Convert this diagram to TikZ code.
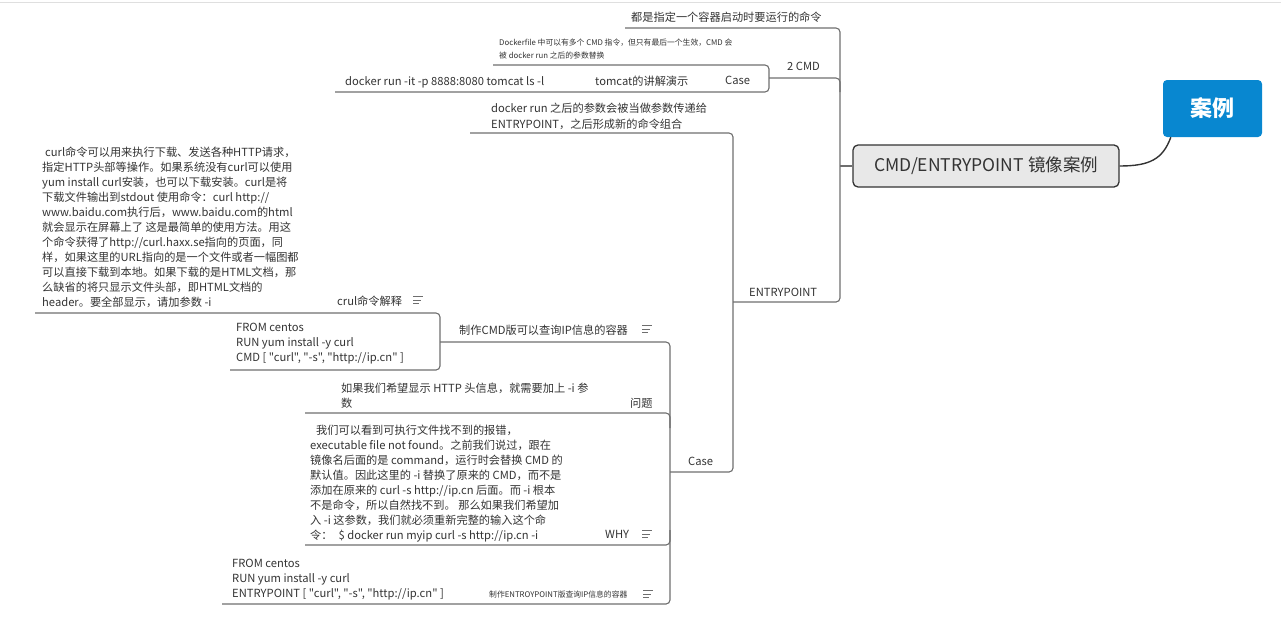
\documentclass[tikz,border=0pt]{standalone}
\usepackage{fontspec}
\setmainfont{Noto Sans CJK SC}[Ligatures=TeXOff]
\usetikzlibrary{calc}

\definecolor{rootblue}{RGB}{8,135,208}
\definecolor{inkgray}{RGB}{51,51,51}
\definecolor{linegray}{RGB}{110,110,110}

\begin{document}
\begin{tikzpicture}[
  x=1pt,
  y=-1pt,
  font=\fontsize{11.2}{15}\selectfont,
  every node/.style={text=inkgray},
  branch/.style={draw=linegray,line width=1.1pt,rounded corners=4pt},
  trunk/.style={draw=inkgray,line width=1.4pt},
  topic/.style={inner sep=0pt,anchor=north west,align=left},
  smalltopic/.style={topic,font=\fontsize{7.8}{13}\selectfont},
  noteicon/.pic={
    \draw[linegray,line width=0.8pt] (0,-3.5) -- (10,-3.5) (0,0) -- (8,0) (0,3.5) -- (6,3.5);
  }
]
\useasboundingbox (0,0) rectangle (1281,616);
\draw[gray!25,line width=0.8pt] (0,2) -- (1281,2);

% =====================================================================
% Root and central topic
% =====================================================================
\node[fill=rootblue,rounded corners=4pt,minimum width=99,minimum height=57,
      text=white,font=\fontsize{22}{22}\selectfont\bfseries] (root) at (1212.5,108.5) {案例};
\node[draw=inkgray,fill=gray!18,rounded corners=5pt,line width=1.3pt,
      minimum width=266,minimum height=42,font=\fontsize{17.5}{17.5}\selectfont] (central) at (986,166)
  {CMD/ENTRYPOINT 镜像案例};
\draw[trunk] ($(root.south west)+(8,0)$) .. controls +(-8,22) and +(30,0) .. (central.east);

% =====================================================================
% First level: 2 CMD / ENTRYPOINT
% =====================================================================
\coordinate (ul-cmdnote) at (625,28);
\coordinate (ul-cmd)     at (769,78);
\coordinate (ul-entry)   at (733,302);

\node[topic] (cmdnote) at (631,12) {都是指定一个容器启动时要运行的命令};
\node[topic] (cmd)     at (787,62) {2 CMD};
\node[topic] (entry)   at (749,288) {ENTRYPOINT};

\draw[branch] (central.west) -- (840,166);
\draw[branch] (ul-cmdnote) -- (840,28) -- (840,302) -- (ul-entry);
\draw[branch] (ul-cmd) -- (840,78) -- (840,92);

% --- 2 CMD children ---
\coordinate (ul-dfile) at (493,65);
\coordinate (ul-case1) at (335,92);

\node[smalltopic] (dfile) at (499,39)
  {Dockerfile 中可以有多个 CMD 指令，但只有最后一个生效，CMD 会\\
   被 docker run 之后的参数替换};
\node[topic] (case1)  at (725,76) {Case};
\node[topic] (tomcat) at (595,76) {tomcat的讲解演示};
\node[topic] (run)    at (345,76) {docker run -it -p 8888:8080 tomcat ls -l};

\draw[branch] (ul-dfile) -- (769,65) -- (769,92) -- (ul-case1);

% --- ENTRYPOINT children ---
\coordinate (ul-param) at (470,133);
\coordinate (ul-case2) at (670,472);

\node[topic] (param) at (491,103)
  {docker run 之后的参数会被当做参数传递给\\[1pt]
   ENTRYPOINT，之后形成新的命令组合};
\node[topic] (case2) at (688,457) {Case};

\draw[branch] (ul-param) -- (733,133) -- (733,472) -- (ul-case2);

% =====================================================================
% Case: CMD / ENTRYPOINT containers
% =====================================================================
\coordinate (ul-mkcmd)   at (440,342);
\coordinate (ul-issue)   at (305,413);
\coordinate (ul-why)     at (305,545);
\coordinate (ul-mkentry) at (222,604);

\node[topic] (mkcmd) at (459,325) {制作CMD版可以查询IP信息的容器};
\pic at (642,329) {noteicon};
\node[topic] (issue) at (630,398) {问题};
\node[topic] (want)  at (341,383)
  {如果我们希望显示 HTTP 头信息，就需要加上 -i 参\\数};
\node[topic] (why)   at (605,530) {WHY};
\pic at (642,534) {noteicon};
\node[topic] (whytext) at (310,425)
  {\hspace{6pt}我们可以看到可执行文件找不到的报错，\\
   executable file not found。之前我们说过，跟在\\
   镜像名后面的是 command，运行时会替换 CMD 的\\
   默认值。因此这里的 -i 替换了原来的 CMD，而不是\\
   添加在原来的 curl -s http://ip.cn 后面。而 -i 根本\\
   不是命令，所以自然找不到。 那么如果我们希望加\\
   入 -i 这参数，我们就必须重新完整的输入这个命\\
   令：\hspace{6pt}\$ docker run myip curl -s http://ip.cn -i};
\node[smalltopic] (mkentry) at (489,591) {制作ENTROYPOINT版查询IP信息的容器};
\pic at (643,594) {noteicon};
\node[topic] (entryfile) at (232,559)
  {FROM centos\\
   RUN yum install -y curl\\
   ENTRYPOINT [ "curl", "-s", "http://ip.cn" ]};

\draw[branch] (ul-mkcmd) -- (670,342) -- (670,604) -- (ul-mkentry);
\draw[branch] (ul-issue) -- (670,413) -- (670,428);
\draw[branch] (ul-why) -- (670,545) -- (670,530);

% --- CMD container children ---
\coordinate (ul-curl)    at (35,313);
\coordinate (ul-cmdfile) at (230,370);

\node[topic] (curlnote) at (337,296) {crul命令解释};
\pic at (413,300) {noteicon};
\node[topic] (curl) at (42,147)
  {\hspace{3pt}curl命令可以用来执行下载、发送各种HTTP请求，\\
   指定HTTP头部等操作。如果系统没有curl可以使用\\
   yum install curl安装，也可以下载安装。curl是将\\
   下载文件输出到stdout 使用命令：curl http://\\
   www.baidu.com执行后，www.baidu.com的html\\
   就会显示在屏幕上了 这是最简单的使用方法。用这\\
   个命令获得了http://curl.haxx.se指向的页面，同\\
   样，如果这里的URL指向的是一个文件或者一幅图都\\
   可以直接下载到本地。如果下载的是HTML文档，那\\
   么缺省的将只显示文件头部，即HTML文档的\\
   header。要全部显示，请加参数 -i};
\node[topic] (cmdfile) at (236,323)
  {FROM centos\\
   RUN yum install -y curl\\
   CMD [ "curl", "-s", "http://ip.cn" ]};

\draw[branch] (ul-curl) -- (440,313) -- (440,370) -- (ul-cmdfile);

\end{tikzpicture}
\end{document}
